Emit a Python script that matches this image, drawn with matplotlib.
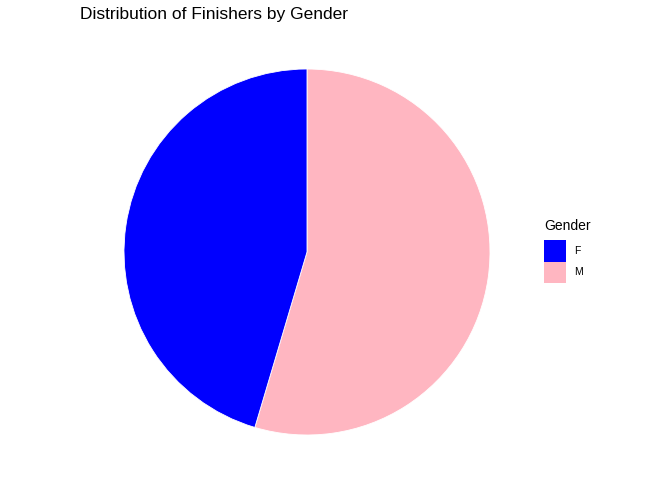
import matplotlib
matplotlib.use('Agg')
import matplotlib.pyplot as plt
from matplotlib.patches import Patch

# Share of finishers by gender
genders = ['F', 'M']
shares = [0.454, 0.546]
colors = {'F': '#0000FF', 'M': '#FFB6C1'}

plt.rcParams['font.family'] = ['Liberation Sans', 'DejaVu Sans']

fig = plt.figure(figsize=(6.72, 4.8), dpi=100)

# Pie panel: centre ~(307, 252) px, radius ~183 px
cx, cy, r = 307, 252, 183
ax = fig.add_axes([(cx - r) / 672, (480 - cy - r) / 480, 2 * r / 672, 2 * r / 480])

# ggplot draws M first clockwise from 12 o'clock, then F
order = ['M', 'F']
vals = [shares[genders.index(g)] for g in order]
ax.pie(vals, colors=[colors[g] for g in order], startangle=90,
       counterclock=False, radius=1.0,
       wedgeprops={'linewidth': 0.6, 'edgecolor': 'white'})
ax.set_xlim(-1, 1)
ax.set_ylim(-1, 1)
ax.set_aspect('equal')
ax.axis('off')

fig.text(80 / 672, 1 - 14 / 480, 'Distribution of Finishers by Gender',
         fontsize=12.5, va='center', ha='left')

# legend title drawn separately, keys ~22x21 px stacked with no gap
fig.text(544 / 672, 1 - 230 / 480, 'Gender', fontsize=10,
         ha='left', va='baseline')
fs = 7.5
hh = 2.8
handles = [Patch(facecolor=colors[g], edgecolor='none') for g in genders]
leg = fig.legend(handles, genders, loc='upper left',
                 bbox_to_anchor=(544 / 672, 1 - 240 / 480),
                 frameon=False, fontsize=fs, handlelength=2.1,
                 handleheight=hh, handletextpad=0.75, labelspacing=0.0,
                 borderpad=0.0, borderaxespad=0.0)

fig.savefig('out.png', dpi=100)
